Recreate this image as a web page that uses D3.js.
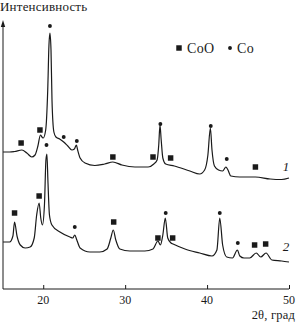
<!DOCTYPE html>
<html>
<head>
<meta charset="utf-8">
<script src="https://cdn.jsdelivr.net/npm/d3@7"></script>
<style>
  body { margin: 0; background: #fff; }
  svg { display: block; font-family: "Liberation Serif", "DejaVu Serif", serif; }
</style>
</head>
<body>
<svg id="xrd"></svg>
<script>
// 2θ and intensity (arb. units)
const theta1 = [15.1, 15.9, 16.5, 17.4, 18.0, 18.6, 19.0, 19.35, 19.66, 19.85, 20.0, 20.3, 20.55, 20.7, 20.82, 20.95, 21.07, 21.3, 21.55, 22.0, 22.5, 23.0, 23.5, 23.8, 24.05, 24.2, 24.5, 25.1, 26.3, 27.5, 28.5, 29.6, 31.2, 32.8, 33.5, 33.9, 34.1, 34.25, 34.4, 34.6, 34.95, 36.0, 37.9, 39.1, 39.7, 40.1, 40.4, 40.6, 40.9, 41.4, 41.9, 42.3, 42.55, 42.9, 44.0, 45.9, 47.7, 49.1, 50.0];
const inten1 = [137, 137, 137.5, 139, 136, 132, 134, 143, 154, 152, 151, 159, 199, 244, 256, 239, 189, 157, 152, 150, 147, 143, 139, 140, 144, 139, 131, 126, 123.5, 125, 127, 124, 122, 122, 125, 129, 144, 164, 149, 131, 125, 123, 118, 115, 119, 134, 161, 139, 123, 119, 118, 122, 119, 113, 112, 112, 110, 109.5, 111];

const theta2 = [15.1, 15.9, 16.3, 16.5, 16.8, 17.2, 17.8, 18.4, 18.9, 19.2, 19.5, 19.7, 19.9, 20.15, 20.33, 20.45, 20.57, 20.76, 21.06, 22.04, 23.26, 23.6, 23.85, 24.1, 24.5, 25.7, 26.9, 27.8, 28.25, 28.55, 28.86, 29.35, 30.57, 32.4, 33.4, 34.0, 34.3, 34.6, 34.9, 35.2, 35.6, 35.85, 37.3, 39.1, 40.6, 41.2, 41.55, 41.9, 42.4, 43.1, 43.7, 44.0, 44.5, 45.2, 46.0, 46.55, 47.2, 47.9, 49.1, 50.0];
const inten2 = [47, 47, 53, 67, 53, 44, 41, 42, 51, 74, 86, 71, 64, 84, 129, 135, 109, 74, 64, 57, 52, 51, 54, 49, 41, 37, 37, 40, 51, 59, 49, 40, 38, 38, 40, 48, 44, 54, 71, 51, 46, 45, 40, 36, 33, 39, 71, 44, 32, 31, 39, 33, 31, 31, 36, 32, 36, 29, 28, 27];

// phase markers: [2θ, intensity]
const coo1 = [[17.3, 146], [19.6, 159], [28.5, 132], [33.4, 132], [35.55, 131], [45.9, 122]];
const co1 = [[20.82, 263], [22.5, 152], [24.1, 148], [34.3, 165], [40.45, 163], [42.4, 130]];
const coo2 = [[16.5, 76], [19.5, 93], [28.6, 67], [34.0, 51], [35.8, 51], [45.8, 44], [47.15, 45]];
const co2 = [[20.4, 144], [23.85, 62], [34.95, 76], [41.55, 76], [43.75, 46]];

const xTicks = [20, 30, 40, 50];
const curveLabels = ["1", "2"];

const width = 296;
const height = 326;
const ink = "#1a1a1a";

const svg = d3.select("#xrd").attr("width", width).attr("height", height);

const x = d3.scaleLinear().domain([15.09, 50]).range([3, 289]);
const y = d3.scaleLinear().domain([0, 270]).range([289, 19]);

// axes
svg.append("line")
  .attr("x1", x(15.09)).attr("x2", x(50))
  .attr("y1", y(0)).attr("y2", y(0))
  .attr("stroke", ink).attr("stroke-width", 1);

svg.append("line")
  .attr("x1", x(15.09)).attr("x2", x(15.09))
  .attr("y1", y(0)).attr("y2", 25)
  .attr("stroke", ink).attr("stroke-width", 1);

svg.append("path")
  .attr("d", `M${x(15.09)},20 L${x(15.09) - 2.2},27 L${x(15.09) + 2.2},27 Z`)
  .attr("fill", ink);

const xAxis = svg.append("g")
  .attr("transform", `translate(0,${y(0)})`)
  .call(d3.axisTop(x).tickValues(xTicks).tickSize(4).tickFormat(""));
xAxis.select(".domain").remove();
xAxis.selectAll("line").attr("stroke", ink);

svg.append("g")
  .selectAll("text")
  .data(xTicks)
  .join("text")
  .attr("x", (d) => x(d))
  .attr("y", 303.5)
  .attr("text-anchor", "middle")
  .attr("font-size", 12)
  .attr("fill", ink)
  .text((d) => d);

svg.append("text")
  .attr("x", 295).attr("y", 318.5)
  .attr("text-anchor", "end")
  .attr("font-size", 12.5)
  .attr("letter-spacing", 0.2)
  .attr("fill", ink)
  .text("2θ, град");

svg.append("text")
  .attr("x", 0).attr("y", 11)
  .attr("font-size", 13)
  .attr("letter-spacing", 0.2)
  .attr("fill", ink)
  .text("Интенсивность");

// curves
const line = d3.line()
  .x((d) => x(d[0]))
  .y((d) => y(d[1]))
  .curve(d3.curveMonotoneX);

[[theta1, inten1], [theta2, inten2]].forEach(([t, v]) => {
  svg.append("path")
    .datum(d3.zip(t, v))
    .attr("d", line)
    .attr("fill", "none")
    .attr("stroke", ink)
    .attr("stroke-width", 1.2)
    .attr("stroke-linejoin", "round");
});

const square = d3.symbol().type(d3.symbolSquare).size(30);
const dot = d3.symbol().type(d3.symbolCircle).size(12);

svg.append("g")
  .selectAll("path")
  .data(coo1.concat(coo2))
  .join("path")
  .attr("transform", (d) => `translate(${x(d[0])},${y(d[1])})`)
  .attr("d", square)
  .attr("fill", ink);

svg.append("g")
  .selectAll("path")
  .data(co1.concat(co2))
  .join("path")
  .attr("transform", (d) => `translate(${x(d[0])},${y(d[1])})`)
  .attr("d", dot)
  .attr("fill", ink);

// curve numbers
svg.append("g")
  .selectAll("text")
  .data(curveLabels)
  .join("text")
  .attr("x", 286)
  .attr("y", (d, i) => [171, 251][i])
  .attr("text-anchor", "middle")
  .attr("font-size", 13)
  .attr("font-style", "italic")
  .attr("fill", ink)
  .text((d) => d);

// legend
const legend = svg.append("g").attr("transform", "translate(179,48)");
legend.append("path").attr("d", square).attr("fill", ink);
legend.append("text").attr("x", 8).attr("y", 4.5).attr("font-size", 14).attr("letter-spacing", 0.3).attr("fill", ink).text("CoO");
legend.append("path").attr("transform", "translate(51,0)").attr("d", dot).attr("fill", ink);
legend.append("text").attr("x", 58).attr("y", 4.5).attr("font-size", 14).attr("letter-spacing", 0.3).attr("fill", ink).text("Co");
</script>
</body>
</html>
